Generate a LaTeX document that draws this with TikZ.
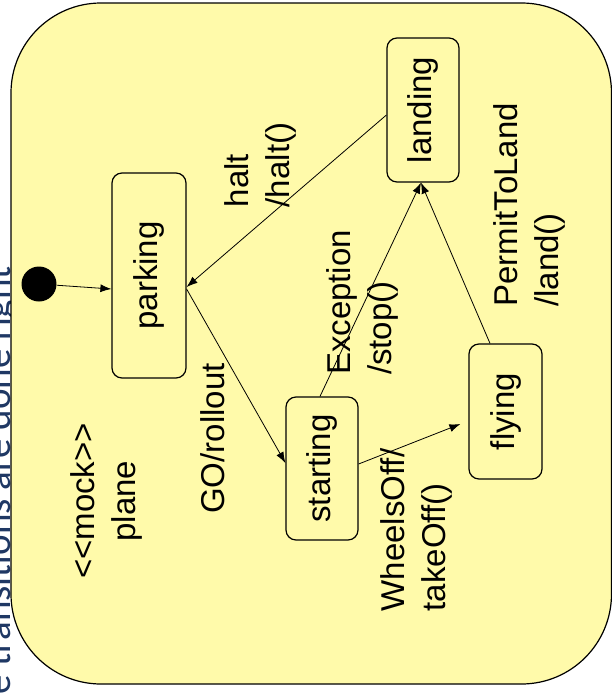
\documentclass[tikz,border=0pt]{standalone}
\usepackage{fontspec}
\setmainfont{Liberation Sans}
\newfontfamily\notefont{Carlito}
\usetikzlibrary{arrows.meta}
\definecolor{stickynote}{RGB}{255,250,170}
\definecolor{slideblue}{RGB}{31,56,100}
\tikzset{
  statebox/.style={draw, line width=1.2pt, rounded corners=10pt, fill=stickynote,
    rotate=90, inner sep=0pt, font=\fontsize{33}{41}\selectfont},
  translabel/.style={rotate=90, inner sep=0pt, align=left,
    font=\fontsize{33}{41}\selectfont}
}
\begin{document}
\begin{tikzpicture}[x=1pt, y=-1pt, >={Latex[length=11pt,width=8pt]}, line width=0.8pt]
  \useasboundingbox (0,0) rectangle (612,694);
  \clip (0,0) rectangle (612,694);
  \node [rotate=90, anchor=base east, inner sep=0pt, text=slideblue,
    font=\notefont\fontsize{39}{43}\selectfont] (note) at (10,266) {e transitions are done right};
  \draw [fill=stickynote, line width=1.2pt, rounded corners=90pt] (11,3) rectangle (611.5,684);

  \node [circle, fill=black, minimum size=35pt, inner sep=0pt] (init) at (39,284) {};
  \node [statebox, minimum width=205pt, minimum height=74pt] (parking) at (149,275.5) {parking};
  \node [statebox, minimum width=144pt, minimum height=72pt] (landing) at (423,110) {landing};
  \node [statebox, minimum width=143pt, minimum height=72pt] (starting) at (322,468.5) {starting};
  \node [statebox, minimum width=135pt, minimum height=73pt] (flying) at (505.5,411.5) {flying};

  \node [translabel] (haltlbl) at (260,165) {halt\\/halt()};
  \node [translabel] (stoplbl) at (362.5,302.5) {Exception\\/stop()};
  \node [translabel] (golbl) at (213,438.5) {GO/rollout};
  \node [translabel] (offlbl) at (416,530) {WheelsOff/\\takeOff()};
  \node [translabel] (landlbl) at (529,205) {PermitToLand\\/land()};
  \node [translabel, align=center] (mocklbl) at (106.5,501) {<{}<mock>{}>\\plane};

  \draw [->] (init) -- ([yshift=-13.5pt]parking.north);
  \draw [->] ([yshift=-5pt]landing.north) -- ([yshift=-11.5pt]parking.south);
  \draw [->] ([yshift=-13.5pt]parking.south) -- ([yshift=5.5pt]starting.north);
  \draw [->] ([yshift=4.5pt]starting.south) -- ([xshift=-8pt, yshift=-12.5pt]flying.north);
  \draw [->] ([xshift=-2pt]starting.east) -- ([xshift=-2pt]landing.west);
  \draw [->] ([xshift=-15.5pt]flying.east) -- ([xshift=-2pt]landing.west);
\end{tikzpicture}
\end{document}
